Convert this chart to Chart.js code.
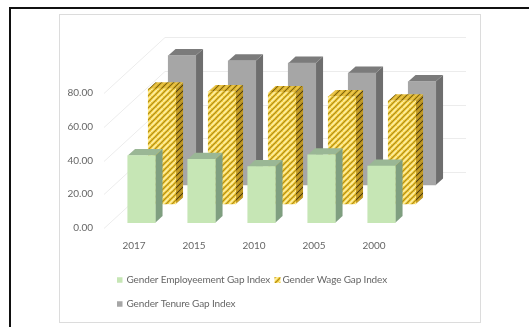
<!DOCTYPE html>
<html>
<head>
<meta charset="utf-8">
<script src="https://cdn.jsdelivr.net/npm/chart.js@4/dist/chart.umd.min.js"></script>
<style>
  html, body { margin: 0; padding: 0; background: #fff; width: 529px; height: 327px; overflow: hidden; }
  #sheet { position: absolute; left: 9px; top: 7px; width: 520px; height: 320px; border-left: 2px solid #111; border-top: 2px solid #111; box-sizing: border-box; }
  #frame { position: absolute; left: 59px; top: 14px; width: 422px; height: 309px; border: 1px solid #dcdcdc; box-sizing: border-box; }
  canvas { position: absolute; left: 0; top: 0; }
</style>
</head>
<body>
<div id="sheet"></div>
<div id="frame"></div>
<canvas id="chart" width="529" height="327"></canvas>
<script>
const categories = ['2017', '2015', '2010', '2005', '2000'];
const employmentGap = [39.8, 37.6, 33.2, 40.2, 33.6];
const wageGap = [68.2, 66.6, 66.0, 63.7, 61.2];
const tenureGap = [76.7, 73.6, 72.2, 66.3, 61.3];

const FONT = 'Lato';
const TEXT = '#666666';
const GRID = '#ececec';

// Diagonal hatch tile used on the wage series faces.
function hatch(base, light, dark) {
  const size = 6;
  const tile = document.createElement('canvas');
  tile.width = tile.height = size;
  const c = tile.getContext('2d');
  c.fillStyle = base;
  c.fillRect(0, 0, size, size);
  for (const shift of [-size, 0, size]) {
    c.strokeStyle = dark;
    c.lineWidth = 1;
    c.beginPath();
    c.moveTo(shift, size);
    c.lineTo(shift + size, 0);
    c.stroke();
    c.strokeStyle = light;
    c.lineWidth = 1.6;
    c.beginPath();
    c.moveTo(shift + 3, size);
    c.lineTo(shift + size + 3, 0);
    c.stroke();
  }
  return c.createPattern(tile, 'repeat');
}

const wageFront = hatch('#eabf26', '#fdf0a8', '#a88c28');
const wageSide = hatch('#a8851c', '#c8a028', '#4e3f10');
const wageTop = hatch('#cfa520', '#ecc850', '#7a6418');

// Each row of bars sits further back on the floor of the box.
const rows = [
  { dx: 7.5, dy: -5.3, side: '#7f9f80', top: '#9ab795' },
  { dx: 28, dy: -24, side: wageSide, top: wageTop },
  { dx: 48, dy: -43, side: '#6e6e6e', top: '#7b7b7b' }
];
const DEPTH_X = 7.3;
const DEPTH_Y = 6.6;
const BOX_X = 61;
const BOX_Y = 56;

// Box walls: diagonals on the side wall and horizontals on the back wall.
const boxWalls = {
  id: 'boxWalls',
  beforeDatasetsDraw(chart) {
    const { ctx, chartArea, scales } = chart;
    ctx.save();
    ctx.strokeStyle = GRID;
    ctx.lineWidth = 1;
    for (const tick of scales.y.ticks) {
      const y = Math.round(scales.y.getPixelForValue(tick.value)) + 0.5;
      ctx.beginPath();
      ctx.moveTo(chartArea.left, y);
      ctx.lineTo(chartArea.left + BOX_X, y - BOX_Y);
      ctx.lineTo(chartArea.right + BOX_X + 1, y - BOX_Y);
      ctx.stroke();
    }
    ctx.restore();
  }
};

// Shifts a dataset to its row and adds the side and top faces of every bar.
const prismFaces = {
  id: 'prismFaces',
  beforeDatasetDraw(chart, args) {
    const { ctx } = chart;
    const row = rows[args.index];
    ctx.save();
    ctx.translate(row.dx, row.dy);
    for (const bar of args.meta.data) {
      const left = bar.x - bar.width / 2;
      const right = bar.x + bar.width / 2;
      ctx.fillStyle = row.side;
      ctx.beginPath();
      ctx.moveTo(right, bar.y);
      ctx.lineTo(right + DEPTH_X, bar.y - DEPTH_Y);
      ctx.lineTo(right + DEPTH_X, bar.base - DEPTH_Y);
      ctx.lineTo(right, bar.base);
      ctx.closePath();
      ctx.fill();
      ctx.fillStyle = row.top;
      ctx.beginPath();
      ctx.moveTo(left, bar.y);
      ctx.lineTo(left + DEPTH_X, bar.y - DEPTH_Y);
      ctx.lineTo(right + DEPTH_X, bar.y - DEPTH_Y);
      ctx.lineTo(right, bar.y);
      ctx.closePath();
      ctx.fill();
    }
  },
  afterDatasetDraw(chart) {
    chart.ctx.restore();
  }
};

// Two-line legend set tight together under the category labels.
const compactLegend = {
  id: 'compactLegend',
  afterDraw(chart) {
    const { ctx } = chart;
    const slots = [
      { box: 117, text: 126.5, y: 280, w: 5.5, h: 5.5 },
      { box: 274.5, text: 282.5, y: 280, w: 6, h: 6 },
      { box: 117, text: 126.5, y: 304, w: 5.5, h: 5.5 }
    ];
    ctx.save();
    ctx.font = '10px ' + FONT;
    ctx.letterSpacing = '-0.14px';
    ctx.textBaseline = 'middle';
    chart.data.datasets.forEach((set, i) => {
      const s = slots[i];
      ctx.fillStyle = set.backgroundColor;
      ctx.fillRect(s.box, s.y - s.h / 2, s.w, s.h);
      ctx.fillStyle = TEXT;
      ctx.fillText(set.label, s.text, s.y);
    });
    ctx.restore();
  }
};

const barBase = { grouped: false, barThickness: 27.5, borderWidth: 0, clip: false };

new Chart(document.getElementById('chart'), {
  type: 'bar',
  data: {
    labels: categories,
    datasets: [
      { ...barBase, label: 'Gender Employeement Gap Index', data: employmentGap, backgroundColor: '#c6e6b5' },
      { ...barBase, label: 'Gender Wage Gap Index', data: wageGap, backgroundColor: wageFront },
      { ...barBase, label: 'Gender Tenure Gap Index', data: tenureGap, backgroundColor: '#a6a6a6' }
    ]
  },
  options: {
    responsive: false,
    animation: false,
    layout: { padding: { left: 44, right: 125, top: 93, bottom: 0 } },
    plugins: { legend: { display: false }, tooltip: { enabled: false } },
    scales: {
      x: {
        grid: { display: false },
        border: { display: false },
        ticks: { color: TEXT, font: { family: FONT, size: 10 }, padding: 4, maxRotation: 0 },
        afterFit(scale) { scale.height = 99; scale.paddingLeft = 0; scale.paddingRight = 0; }
      },
      y: {
        min: 0,
        max: 80,
        grid: { display: false },
        border: { display: false },
        ticks: {
          stepSize: 20,
          color: TEXT,
          padding: 3,
          font: { family: FONT, size: 10 },
          callback: value => value.toFixed(2)
        },
        afterFit(scale) { scale.width = 60; scale.paddingTop = 0; scale.paddingBottom = 0; }
      }
    }
  },
  plugins: [boxWalls, prismFaces, compactLegend]
});
</script>
</body>
</html>
